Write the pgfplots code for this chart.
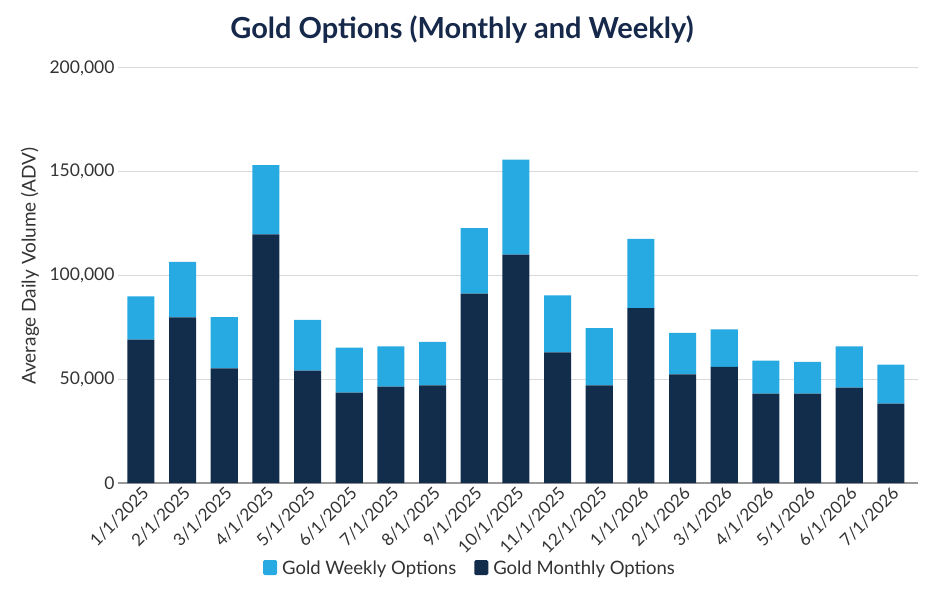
\documentclass[border=0pt]{standalone}
\usepackage{pgfplots}
\pgfplotsset{compat=1.18}
\usepackage{pgfplotstable}
\usepackage{fontspec}
\setmainfont{Lato}
\definecolor{weekly}{HTML}{27A9E1}
\definecolor{monthly}{HTML}{122C4B}
\definecolor{titlec}{HTML}{16294A}
\definecolor{txt}{HTML}{333333}
\pgfplotstableread{
x monthly weekly
0 69100 20800
1 79800 26800
2 55200 24700
3 119800 33400
4 54200 24400
5 43600 21700
6 46500 19300
7 47000 21000
8 91300 31500
9 110100 45800
10 63000 27400
11 47100 27500
12 84300 33400
13 52300 20100
14 56000 18000
15 43100 15900
16 43100 15300
17 46000 19900
18 38300 18800
}\datatable
\begin{document}
\begin{tikzpicture}
\path[use as bounding box] (0,0) rectangle (940pt,600pt);
\node[font=\fontsize{29}{33}\selectfont\bfseries, text=titlec] at (462pt,570pt) {Gold Options (Monthly and Weekly)};
\begin{axis}[
  at={(118pt,117pt)}, anchor=south west,
  scale only axis, width=800pt, height=415pt,
  ybar stacked, bar width=0.65,
  xmin=-0.55, xmax=18.65, ymin=0, ymax=200000,
  ytick={0,50000,100000,150000,200000},
  yticklabels={0,{50,000},{100,000},{150,000},{200,000}},
  yticklabel style={font=\fontsize{17.5}{20}\selectfont, text=txt},
  scaled y ticks=false,
  ymajorgrids, grid style={draw=black!15, line width=1pt},
  axis x line*=bottom, axis y line*=left,
  y axis line style={draw=none},
  x axis line style={draw=black!40, line width=2pt},
  xtick=data,
  xticklabels={1/1/2025,2/1/2025,3/1/2025,4/1/2025,5/1/2025,6/1/2025,7/1/2025,8/1/2025,9/1/2025,10/1/2025,11/1/2025,12/1/2025,1/1/2026,2/1/2026,3/1/2026,4/1/2026,5/1/2026,6/1/2026,7/1/2026},
  xticklabel style={font=\fontsize{17}{19}\selectfont, text=txt, rotate=45, anchor=north east, inner sep=2pt},
  major tick length=0pt,
  ylabel={Average Daily Volume (ADV)},
  every axis y label/.style={at={(-88pt,0.523)}, rotate=90, anchor=center, font=\fontsize{19}{22}\selectfont, text=txt},
  reverse legend,
  legend columns=2,
  legend style={at={(0.44,-0.205)}, anchor=center, draw=none, font=\fontsize{18.5}{21}\selectfont, text=txt,
    /tikz/every odd column/.append style={column sep=3pt},
    /tikz/every even column/.append style={column sep=16pt}},
  legend image code/.code={\fill[#1, rounded corners=1.5pt] (0pt,-7pt) rectangle (14pt,8pt);},
]
\addplot[fill=monthly, draw=none] table[x=x, y=monthly] {\datatable};
\addlegendentry{Gold Monthly Options}
\addplot[fill=weekly, draw=none] table[x=x, y=weekly] {\datatable};
\addlegendentry{Gold Weekly Options}
\end{axis}
\end{tikzpicture}
\end{document}
